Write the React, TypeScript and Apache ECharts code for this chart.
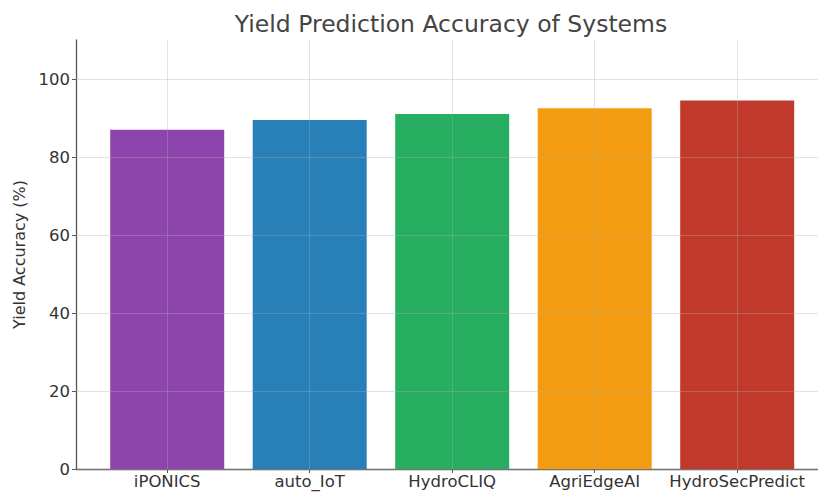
import React, { useEffect, useRef } from "react";
import * as echarts from "echarts";

const systems = ["iPONICS", "auto_IoT", "HydroCLIQ", "AgriEdgeAI", "HydroSecPredict"];
const accuracy = [87, 89.5, 91, 92.5, 94.5];
const barColors = ["#8e44ad", "#2980b9", "#27ae60", "#f39c12", "#c0392b"];
const yTicks = [0, 20, 40, 60, 80, 100];
const xPositions = [0, 1, 2, 3, 4];

const FONT = "DejaVu Sans";
const GRID_COLOR = "rgba(176,176,176,0.35)";

export default function App() {
  const ref = useRef<HTMLDivElement>(null);

  useEffect(() => {
    if (!ref.current) return;
    const chart = echarts.init(ref.current, null, { renderer: "svg" });

    const gridLines = [
      ...yTicks.map((v) => ({ yAxis: v })),
      ...xPositions.map((v) => ({ xAxis: v })),
    ];

    chart.setOption({
      animation: false,
      backgroundColor: "#ffffff",
      title: {
        text: "Yield Prediction Accuracy of Systems",
        left: 446,
        top: 7,
        textAlign: "center",
        textStyle: {
          fontFamily: FONT,
          fontSize: 23.5,
          fontWeight: "normal",
          color: "#444444",
        },
      },
      grid: { left: 76, right: 0, top: 40, bottom: 24 },
      xAxis: {
        type: "value",
        min: -0.64,
        max: 4.567,
        axisLine: { show: true, onZero: false, lineStyle: { color: "#555555", width: 1.3 } },
        axisTick: {
          show: true,
          customValues: xPositions,
          length: 4,
          lineStyle: { color: "#555555" },
        },
        axisLabel: {
          customValues: xPositions,
          formatter: (v: number) => systems[Math.round(v)] ?? "",
          fontFamily: FONT,
          fontSize: 16.5,
          color: "#333333",
          margin: 4,
        },
        splitLine: { show: false },
      },
      yAxis: {
        type: "value",
        min: 0,
        max: 110,
        name: "Yield Accuracy (%)",
        nameLocation: "middle",
        nameGap: 48,
        nameTextStyle: { fontFamily: FONT, fontSize: 16, color: "#333333" },
        axisLine: { show: true, onZero: false, lineStyle: { color: "#555555", width: 1.3 } },
        axisTick: {
          show: true,
          customValues: yTicks,
          length: 4,
          lineStyle: { color: "#555555" },
        },
        axisLabel: {
          customValues: yTicks,
          fontFamily: FONT,
          fontSize: 16.5,
          color: "#333333",
          margin: 6,
        },
        splitLine: { show: false },
      },
      series: [
        {
          type: "bar",
          barWidth: 114,
          data: accuracy.map((v, i) => ({
            value: [i, v],
            itemStyle: { color: barColors[i] },
          })),
          markLine: {
            silent: true,
            symbol: "none",
            label: { show: false },
            lineStyle: { color: GRID_COLOR, type: "solid", width: 1 },
            data: gridLines,
          },
        },
      ],
    });

    return () => chart.dispose();
  }, []);

  return <div ref={ref} style={{ width: 818, height: 493, position: "absolute", left: 0, top: 0 }} />;
}
